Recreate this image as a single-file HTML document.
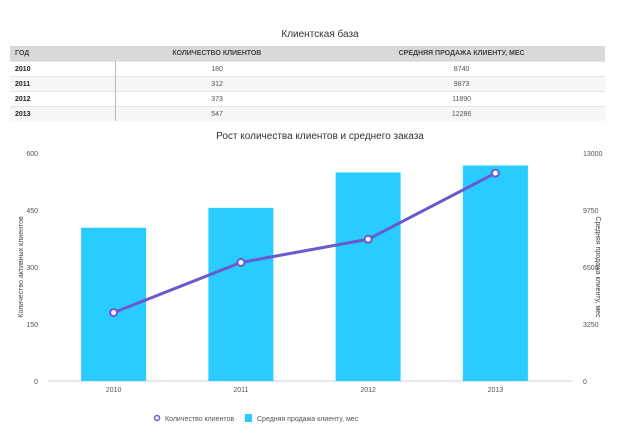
<!DOCTYPE html>
<html><head><meta charset="utf-8"><style>
body{margin:0;width:640px;height:448px;background:#fff;font-family:"Liberation Sans","Noto Sans CJK SC",sans-serif;overflow:hidden;position:relative}
.t{position:absolute;color:#333}
table{position:absolute;left:10px;top:46px;width:595px;border-collapse:collapse;font-size:7px}
th{background:#d9d9d9;height:15px;font-weight:bold;color:#444;text-align:center;padding:0}
td{height:14px;border-top:1px solid #e6e6e6;text-align:center;color:#555;padding:0}
tr:nth-child(odd) td{background:#f7f7f7}
td:first-child{text-align:left;font-weight:bold;color:#222;padding-left:5px;border-right:1px solid #bbb;width:100px}
th:first-child{text-align:left;padding-left:5px}
</style></head><body>
<div class="t" style="left:0;width:640px;text-align:center;top:29px;font-size:10px">Клиентская база</div>
<table>
<tr><th>ГОД</th><th>КОЛИЧЕСТВО КЛИЕНТОВ</th><th>СРЕДНЯЯ ПРОДАЖА КЛИЕНТУ, МЕС</th></tr>
<tr><td>2010</td><td>180</td><td>8740</td></tr>
<tr><td>2011</td><td>312</td><td>9873</td></tr>
<tr><td>2012</td><td>373</td><td>11890</td></tr>
<tr><td>2013</td><td>547</td><td>12286</td></tr>
</table>
<div class="t" style="left:0;width:640px;text-align:center;top:131px;font-size:10px">Рост количества клиентов и среднего заказа</div>
<svg id="c" width="640" height="448" style="position:absolute;left:0;top:0"></svg>
<script>
const categories=["2010","2011","2012","2013"];
const customers=[180,312,373,547];
const avgSale=[8740,9873,11890,12286];
const leftTicks=[0,150,300,450,600];
const rightTicks=[0,3250,6500,9750,13000];
const svg=document.getElementById('c');const NS="http://www.w3.org/2000/svg";
const x0=50,x1=559,yTop=153,yBot=381;
const band=(x1-x0)/categories.length;
const xc=i=>x0+band*(i+0.5);
const yL=v=>yBot-(v/600)*(yBot-yTop);
const yR=v=>yBot-(v/13000)*(yBot-yTop);
function mk(t,a,txt){const e=document.createElementNS(NS,t);for(const k in a)e.setAttribute(k,a[k]);if(txt!=null)e.textContent=txt;svg.appendChild(e);return e;}
let e=mk('line',{x1:48,x2:572,y1:yBot,y2:yBot,stroke:'#ccd'});


leftTicks.forEach(v=>{const t=mk('text',{x:38,y:yL(v)+3,'text-anchor':'end','font-size':7,fill:'#555'},v);

});
rightTicks.forEach(v=>{const t=mk('text',{x:583,y:yR(v)+3,'text-anchor':'start','font-size':7,fill:'#555'},v);

});
categories.forEach((c,i)=>{
const b=mk('rect',{x:xc(i)-32.5,y:yR(avgSale[i]),width:65,height:yBot-yR(avgSale[i]),fill:'#29ccff'});


const t=mk('text',{x:xc(i),y:yBot+11,'text-anchor':'middle','font-size':7,fill:'#555'},c);

});
const pl=mk('polyline',{points:customers.map((v,i)=>xc(i)+','+yL(v)).join(' '),fill:'none',stroke:'#6a5acd','stroke-width':3});


customers.forEach((v,i)=>{const p=mk('circle',{cx:xc(i),cy:yL(v),r:3.5,fill:'#fff',stroke:'#6a5acd','stroke-width':2});

});
let a=mk('text',{x:0,y:0,transform:'translate(23,267) rotate(-90)','text-anchor':'middle','font-size':7,fill:'#444'},'Количество активных клиентов');


a=mk('text',{x:0,y:0,transform:'translate(596,267) rotate(90)','text-anchor':'middle','font-size':7,fill:'#444'},'Средняя продажа клиенту, мес');


let l=mk('circle',{cx:157,cy:418,r:2.5,fill:'#fff',stroke:'#6a5acd','stroke-width':1.5});


l=mk('text',{x:165,y:421,'font-size':7,fill:'#555'},'Количество клиентов');


l=mk('rect',{x:245,y:414,width:7,height:8,fill:'#29ccff'});


l=mk('text',{x:257,y:421,'font-size':7,fill:'#555'},'Средняя продажа клиенту, мес');


</script>
</body></html>
